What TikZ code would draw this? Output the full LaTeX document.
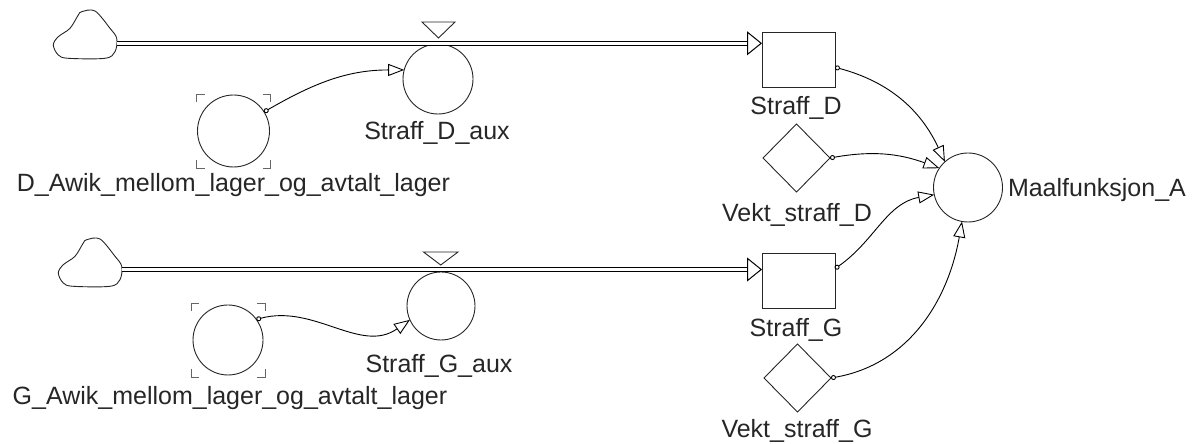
\documentclass[tikz,border=0pt]{standalone}
\usepackage{fontspec}
\setmainfont{Liberation Sans}
\usetikzlibrary{arrows.meta,shapes.geometric,calc}
\newcommand\vcorners[1]{%
  \foreach \sx/\sy in {1/1,1/-1,-1/1,-1/-1}{%
    \draw[corner] ($(#1.center)+(\sx*37,\sy*29)$) -- ($(#1.center)+(\sx*37,\sy*37)$) -- ($(#1.center)+(\sx*29,\sy*37)$);
  }}
\begin{document}
\begin{tikzpicture}[x=1pt,y=1pt,
  every node/.style={inner sep=0pt, outer sep=0pt},
  shapeline/.style={draw=black!85, line width=0.9pt},
  aux/.style={shapeline, circle, minimum size=70pt},
  stock/.style={shapeline, rectangle, minimum width=73pt, minimum height=55pt},
  const/.style={shapeline, diamond, aspect=1, minimum width=67pt, minimum height=68pt},
  lbl/.style={font=\fontsize{25}{30}\selectfont, text=black!85, anchor=base},
  pipe/.style={draw=black, line width=1.4pt, double=white, double distance=2.6pt},
  pipetip/.style={-{Triangle[open, length=15pt, width=24pt]}, line width=1pt, black},
  info/.style={{Circle[open,length=5pt]}-{Triangle[open,length=16pt,width=12pt]}, line width=0.9pt, black},
  valve/.style={shapeline, line join=miter},
  cloudshape/.style={shapeline, line join=round},
  corner/.style={draw=black!60, line width=0.9pt}
]
\useasboundingbox (0,0) rectangle (1194,444);

% clouds
\draw[cloudshape, shift={(85,408)}] plot[smooth cycle, tension=0.55] coordinates {(-3.3,24.3) (10,25) (25,7.7) (31.7,-2.3) (30,-15.7) (20,-22.3) (-16.7,-22.3) (-26.7,-19) (-31.7,-9) (-26.7,-0.7) (-15,7.7) (-6.7,21)};
\coordinate (cloudDr) at (116.5,400.7);
\draw[cloudshape, shift={(90,180)}] plot[smooth cycle, tension=0.55] coordinates {(-3.3,24.3) (10,25) (25,7.7) (31.7,-2.3) (30,-15.7) (20,-22.3) (-16.7,-22.3) (-26.7,-19) (-31.7,-9) (-26.7,-0.7) (-15,7.7) (-6.7,21)};
\coordinate (cloudGr) at (121.5,174.5);

% stocks
\node[stock] (stockD) at (798.5,384.5) {};
\node[stock] (stockG) at (798.5,163.5) {};

% auxiliaries
\node[aux] (auxD) at (438,365) {};
\node[aux, minimum size=68pt] (auxG) at (441,138) {};
\node[aux, minimum size=72pt] (awikD) at (233.5,313) {};
\node[aux] (awikG) at (228,104) {};
\node[aux, minimum size=69pt] (maal) at (968,256.5) {};
\vcorners{awikD}
\vcorners{awikG}

% constants
\node[const] (vektD) at (796.5,286) {};
\node[const] (vektG) at (797.5,66) {};

% valves
\draw[valve] (422,422) -- (455,422) -- (438.5,406) -- cycle;
\draw[valve] (423.5,192) -- (458,192) -- (440.7,179) -- cycle;

% pipes
\draw[pipe] (cloudDr) -- ($(cloudDr -| stockD.west)+(-14,0)$);
\draw[pipetip] ($(cloudDr -| stockD.west)+(-15,0)$) -- (cloudDr -| stockD.west);
\draw[pipe] (cloudGr) -- ($(cloudGr -| stockG.west)+(-14,0)$);
\draw[pipetip] ($(cloudGr -| stockG.west)+(-15,0)$) -- (cloudGr -| stockG.west);

% labels
\node[lbl] (auxDl) at (437,304) {Straff\_D\_aux};
\node[lbl] (auxGl) at (439,71) {Straff\_G\_aux};
\node[lbl] (awikDl) at (233.5,252) {D\_Awik\_mellom\_lager\_og\_avtalt\_lager};
\node[lbl] (awikGl) at (230,39) {G\_Awik\_mellom\_lager\_og\_avtalt\_lager};
\node[lbl] (stockDl) at (796,329) {Straff\_D};
\node[lbl] (stockGl) at (796,107) {Straff\_G};
\node[lbl] (vektDl) at (797,222) {Vekt\_straff\_D};
\node[lbl] (vektGl) at (797,6) {Vekt\_straff\_G};
\node[lbl, anchor=base west] (maall) at (1008,247) {Maalfunksjon\_A};

% information connectors
\draw[info] (awikD.32) to[out=30,in=180] (auxD.165);
\draw[info] (awikG.36) to[out=15,in=215] (auxG.204);
\draw[info] (stockD.-12) to[out=-15,in=115] (maal.132);
\draw[info] (vektD.east) to[out=10,in=160] (maal.146);
\draw[info] (stockG.18) to[out=35,in=190] (maal.192);
\draw[info] (vektG.east) to[out=10,in=-100] (maal.260);
\end{tikzpicture}
\end{document}
